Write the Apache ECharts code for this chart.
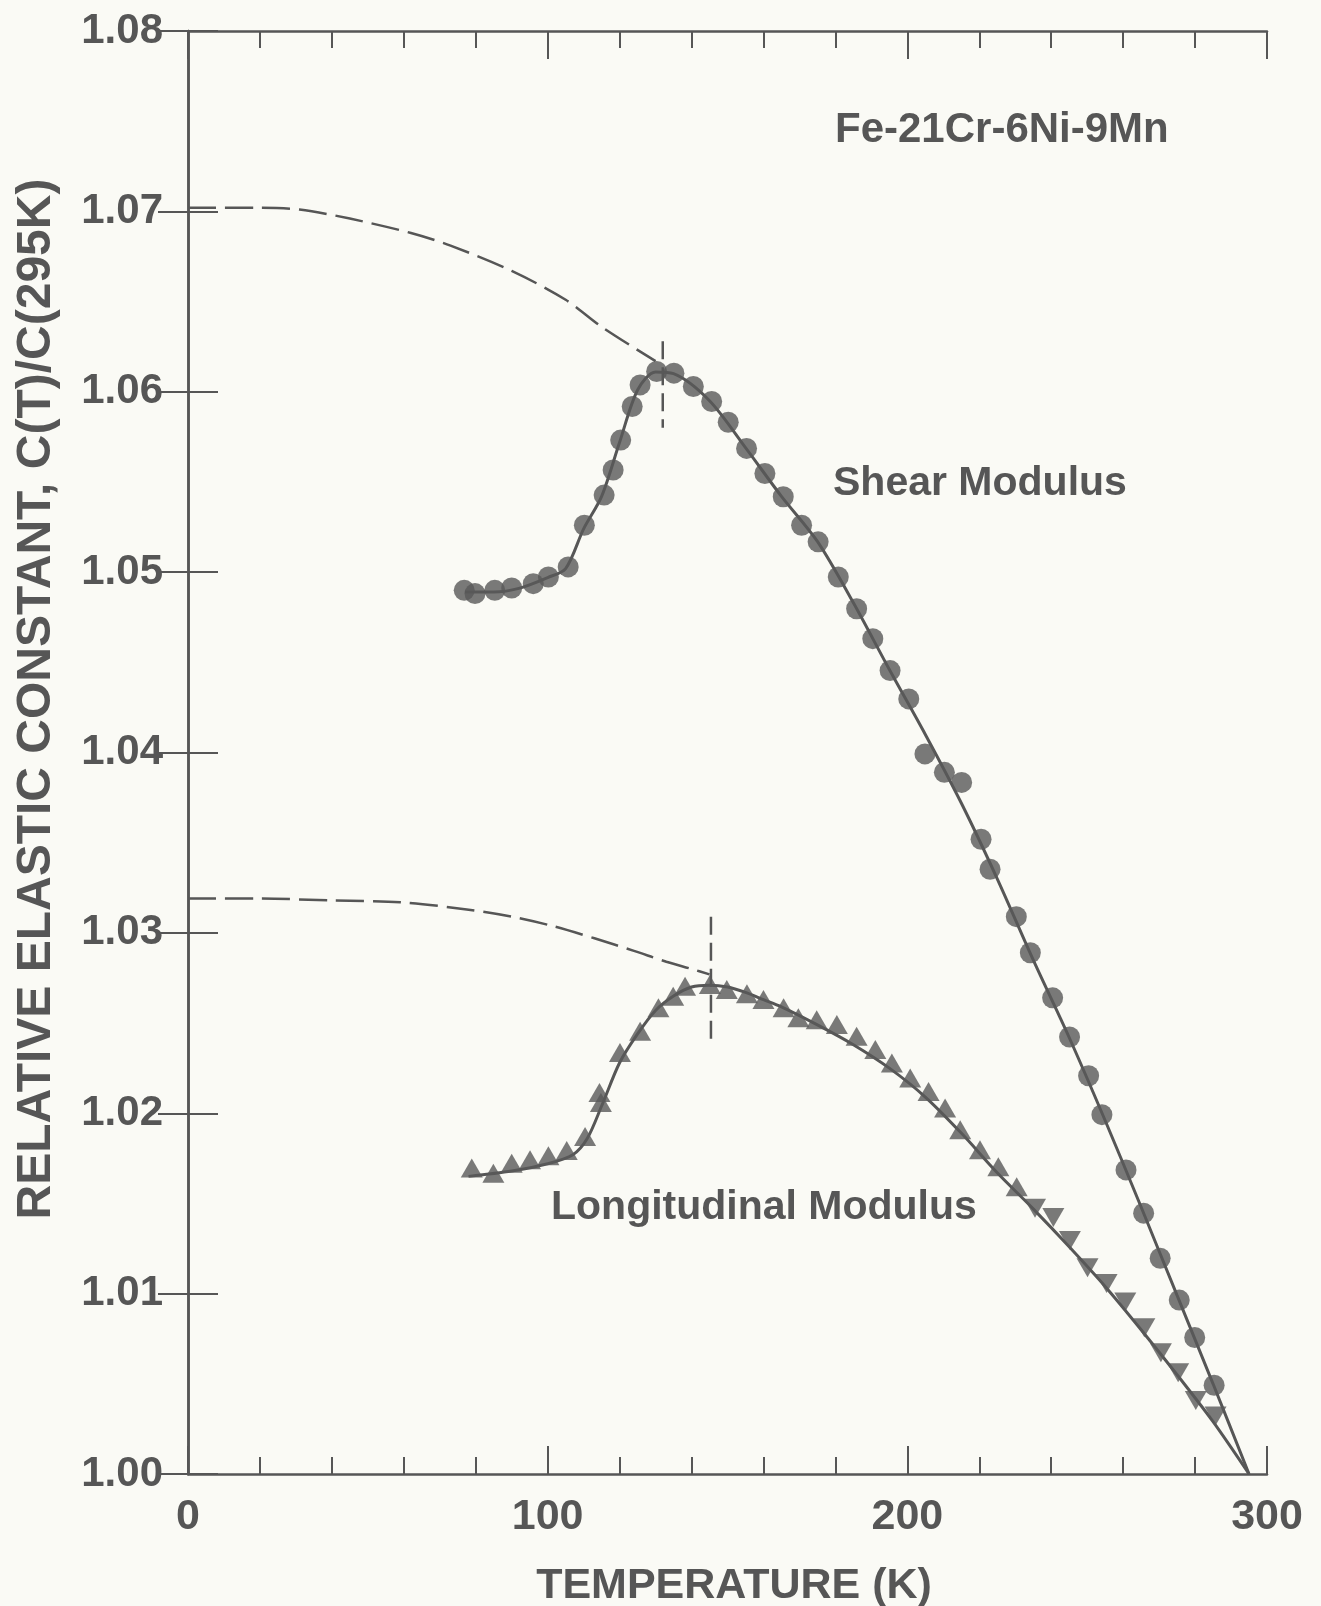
<!DOCTYPE html>
<html>
<head>
<meta charset="utf-8">
<title>Fe-21Cr-6Ni-9Mn relative elastic constants</title>
<script src="https://cdn.jsdelivr.net/npm/echarts@6/dist/echarts.min.js"></script>
<style>
  html, body { margin: 0; padding: 0; background: #fafaf5; }
  #chart { width: 1321px; height: 1606px; }
</style>
</head>
<body>
<div id="chart"></div>
<script>
// Shear modulus measurements (temperature in K, C(T)/C(295K))
const shearT = [76.8, 79.8, 85.3, 90.0, 96.0, 100.2, 105.7, 110.2, 115.7, 118.2, 120.3, 123.5, 125.7,
  130.3, 135.1, 140.5, 145.6, 150.2, 155.3, 160.4, 165.5, 170.6, 175.2, 180.8, 185.9, 190.4, 195.2,
  200.4, 204.9, 210.3, 215.1, 220.5, 223.0, 230.3, 234.2, 240.4, 245.1, 250.4, 254.1, 260.8, 265.7,
  270.3, 275.6, 279.9, 285.3];
const shearV = [1.04899, 1.04881, 1.04899, 1.04912, 1.04936, 1.04973, 1.05029, 1.05260, 1.05427,
  1.05566, 1.05732, 1.05918, 1.06038, 1.06112, 1.06103, 1.06029, 1.05946, 1.05831, 1.05686, 1.05547,
  1.05418, 1.05260, 1.05168, 1.04973, 1.04797, 1.04631, 1.04454, 1.04297, 1.03992, 1.03890, 1.03834,
  1.03519, 1.03353, 1.03090, 1.02890, 1.02640, 1.02423, 1.02208, 1.01992, 1.01686, 1.01446, 1.01196,
  1.00964, 1.00757, 1.00492];

// Longitudinal modulus measurements, up-pointing triangles
const longUpT = [78.9, 84.9, 90.0, 95.1, 100.2, 105.3, 110.4, 114.4, 114.8, 120.1, 125.7, 130.8, 134.9,
  138.2, 145.1, 149.8, 155.4, 160.0, 165.6, 169.7, 174.8, 180.4, 185.9, 191.1, 195.7, 200.8, 205.9,
  210.5, 214.7, 220.2, 225.3, 230.4];
const longUpV = [1.01696, 1.01668, 1.01723, 1.01742, 1.01764, 1.01793, 1.01871, 1.02115, 1.02060,
  1.02337, 1.02454, 1.02585, 1.02649, 1.02704, 1.02714, 1.02686, 1.02663, 1.02631, 1.02585, 1.02529,
  1.02519, 1.02492, 1.02427, 1.02353, 1.02279, 1.02196, 1.02121, 1.02029, 1.01908, 1.01797, 1.01704,
  1.01593];

// Longitudinal modulus measurements, down-pointing triangles
const longDownT = [235.5, 240.6, 245.2, 250.1, 255.4, 260.6, 265.9, 270.5, 275.3, 280.2, 285.7];
const longDownV = [1.01474, 1.01422, 1.01294, 1.01144, 1.01056, 1.00954, 1.00811, 1.00672, 1.00561,
  1.00408, 1.00321];

// Smoothed curves through the data, ending at 295 K
const shearFitT = [77, 85, 92, 100, 105, 110, 115, 120, 125, 130, 135, 145, 155, 165, 175, 185, 195,
  205, 215, 225, 235, 245, 255, 265, 275, 285, 295];
const shearFitV = [1.0489, 1.0489, 1.0491, 1.0497, 1.0502, 1.0524, 1.0542, 1.0572, 1.0601, 1.0611,
  1.0610, 1.0595, 1.0569, 1.0542, 1.0517, 1.0483, 1.0446, 1.0410, 1.0372, 1.0330, 1.0285, 1.0242,
  1.0196, 1.0148, 1.0099, 1.0050, 1.0000];
const longFitT = [78, 90, 100, 107, 111, 115, 120, 125, 130, 135, 140, 145, 150, 155, 160, 165, 175,
  185, 195, 205, 215, 225, 235, 245, 255, 265, 275, 285, 295];
const longFitV = [1.0165, 1.0168, 1.0172, 1.0177, 1.0186, 1.0204, 1.0228, 1.0244, 1.0257, 1.0265,
  1.0270, 1.0271, 1.0270, 1.0267, 1.0263, 1.0259, 1.0249, 1.0238, 1.0225, 1.0209, 1.0189, 1.0167,
  1.0147, 1.0126, 1.0104, 1.0080, 1.0055, 1.0029, 1.0000];

// Low-temperature extrapolations (dashed)
const shearExtT = [0, 20, 31, 45, 62, 73, 90, 105, 115, 130];
const shearExtV = [1.0702, 1.0702, 1.0701, 1.0696, 1.0688, 1.0681, 1.0667, 1.0651, 1.0636, 1.0617];
const longExtT = [0, 20, 40, 59, 77.5, 90, 101, 113, 124, 133, 140, 145];
const longExtV = [1.0319, 1.0319, 1.0318, 1.0317, 1.0313, 1.0309, 1.0304, 1.0297, 1.0290, 1.0284,
  1.0280, 1.0277];

// Transition markers (vertical dashes)
const shearMarkT = [132, 132];
const shearMarkV = [1.0628, 1.0580];
const longMarkT = [145.4, 145.4];
const longMarkV = [1.0309, 1.0238];

// Axis ticks
const xTicks = [0, 100, 200, 300];
const yTicks = [1.00, 1.01, 1.02, 1.03, 1.04, 1.05, 1.06, 1.07, 1.08];

// Text
const yTitle = 'RELATIVE ELASTIC CONSTANT, C(T)/C(295K)';
const xTitle = 'TEMPERATURE (K)';
const alloyLabel = 'Fe-21Cr-6Ni-9Mn';
const shearLabel = 'Shear Modulus';
const longLabel = 'Longitudinal Modulus';

const ink = '#565656';
const font = "'Liberation Sans', Arial, sans-serif";
const zip = (xs, ys) => xs.map((x, i) => [x, ys[i]]);

const chart = echarts.init(document.getElementById('chart'), null, { renderer: 'canvas' });

const baseX = {
  type: 'value', min: xTicks[0], max: xTicks[xTicks.length - 1], interval: xTicks[1] - xTicks[0],
  axisLine: { show: true, lineStyle: { color: ink, width: 2.5 } },
  axisTick: { show: true, inside: true, length: 28, lineStyle: { color: ink, width: 2 } },
  minorTick: { show: true, splitNumber: 5, length: 17, lineStyle: { color: ink, width: 2 } },
  splitLine: { show: false }, minorSplitLine: { show: false }
};
const baseY = {
  type: 'value', min: yTicks[0], max: yTicks[yTicks.length - 1], interval: 0.01,
  axisLine: { show: true, lineStyle: { color: ink, width: 2.5 } },
  axisTick: { show: true, inside: true, length: 30, lineStyle: { color: ink, width: 2 } },
  splitLine: { show: false }
};

const curve = (data, width, dash, smooth) => ({
  type: 'line', data, showSymbol: false, smooth, silent: true,
  lineStyle: { color: ink, width, type: dash }, z: 3
});

chart.setOption({
  backgroundColor: '#fafaf5',
  animation: false,
  grid: { left: 188, right: 54, top: 31, bottom: 132, containLabel: false },
  xAxis: [
    Object.assign({}, baseX, {
      position: 'bottom',
      axisLabel: { show: true, color: ink, fontFamily: font, fontWeight: 'bold', fontSize: 43, margin: 22 }
    }),
    Object.assign({}, baseX, { position: 'top', axisLabel: { show: false } })
  ],
  yAxis: [
    Object.assign({}, baseY, {
      position: 'left',
      axisLabel: {
        show: true, color: ink, fontFamily: font, fontWeight: 'bold', fontSize: 42, margin: 25,
        formatter: v => v.toFixed(2)
      }
    }),
    Object.assign({}, baseY, { position: 'right', axisLabel: { show: false } })
  ],
  series: [
    curve(zip(shearExtT, shearExtV), 2.5, [28, 9], 0.3),
    curve(zip(longExtT, longExtV), 2.5, [28, 9], 0.3),
    curve(zip(shearMarkT, shearMarkV), 2.5, [18, 8], false),
    curve(zip(longMarkT, longMarkV), 2.5, [18, 8], false),
    curve(zip(shearFitT, shearFitV), 3, 'solid', 0.3),
    curve(zip(longFitT, longFitV), 3, 'solid', 0.3),
    {
      name: shearLabel, type: 'scatter', data: zip(shearT, shearV),
      symbol: 'circle', symbolSize: 21, itemStyle: { color: '#595959' }, z: 4
    },
    {
      name: longLabel, type: 'scatter', data: zip(longUpT, longUpV),
      symbol: 'triangle', symbolSize: [22, 19], itemStyle: { color: '#595959' }, z: 4
    },
    {
      name: longLabel + ' ', type: 'scatter', data: zip(longDownT, longDownV),
      symbol: 'triangle', symbolRotate: 180, symbolSize: [22, 19], itemStyle: { color: '#595959' }, z: 4
    }
  ],
  graphic: [
    { type: 'text', x: 37, y: 699, rotation: Math.PI / 2,
      style: { text: yTitle, fill: ink, font: "bold 48px " + font, align: 'center', verticalAlign: 'middle' } },
    { type: 'text', x: 734, y: 1586,
      style: { text: xTitle, fill: ink, font: "bold 43px " + font, align: 'center', verticalAlign: 'middle' } },
    { type: 'text', x: 835, y: 130, style: { text: alloyLabel, fill: ink, font: "bold 42px " + font, align: 'left', verticalAlign: 'middle' } },
    { type: 'text', x: 833, y: 484, style: { text: shearLabel, fill: ink, font: "bold 41px " + font, align: 'left', verticalAlign: 'middle' } },
    { type: 'text', x: 551, y: 1208, style: { text: longLabel, fill: ink, font: "bold 41px " + font, align: 'left', verticalAlign: 'middle' } }
  ]
});
</script>
</body>
</html>
